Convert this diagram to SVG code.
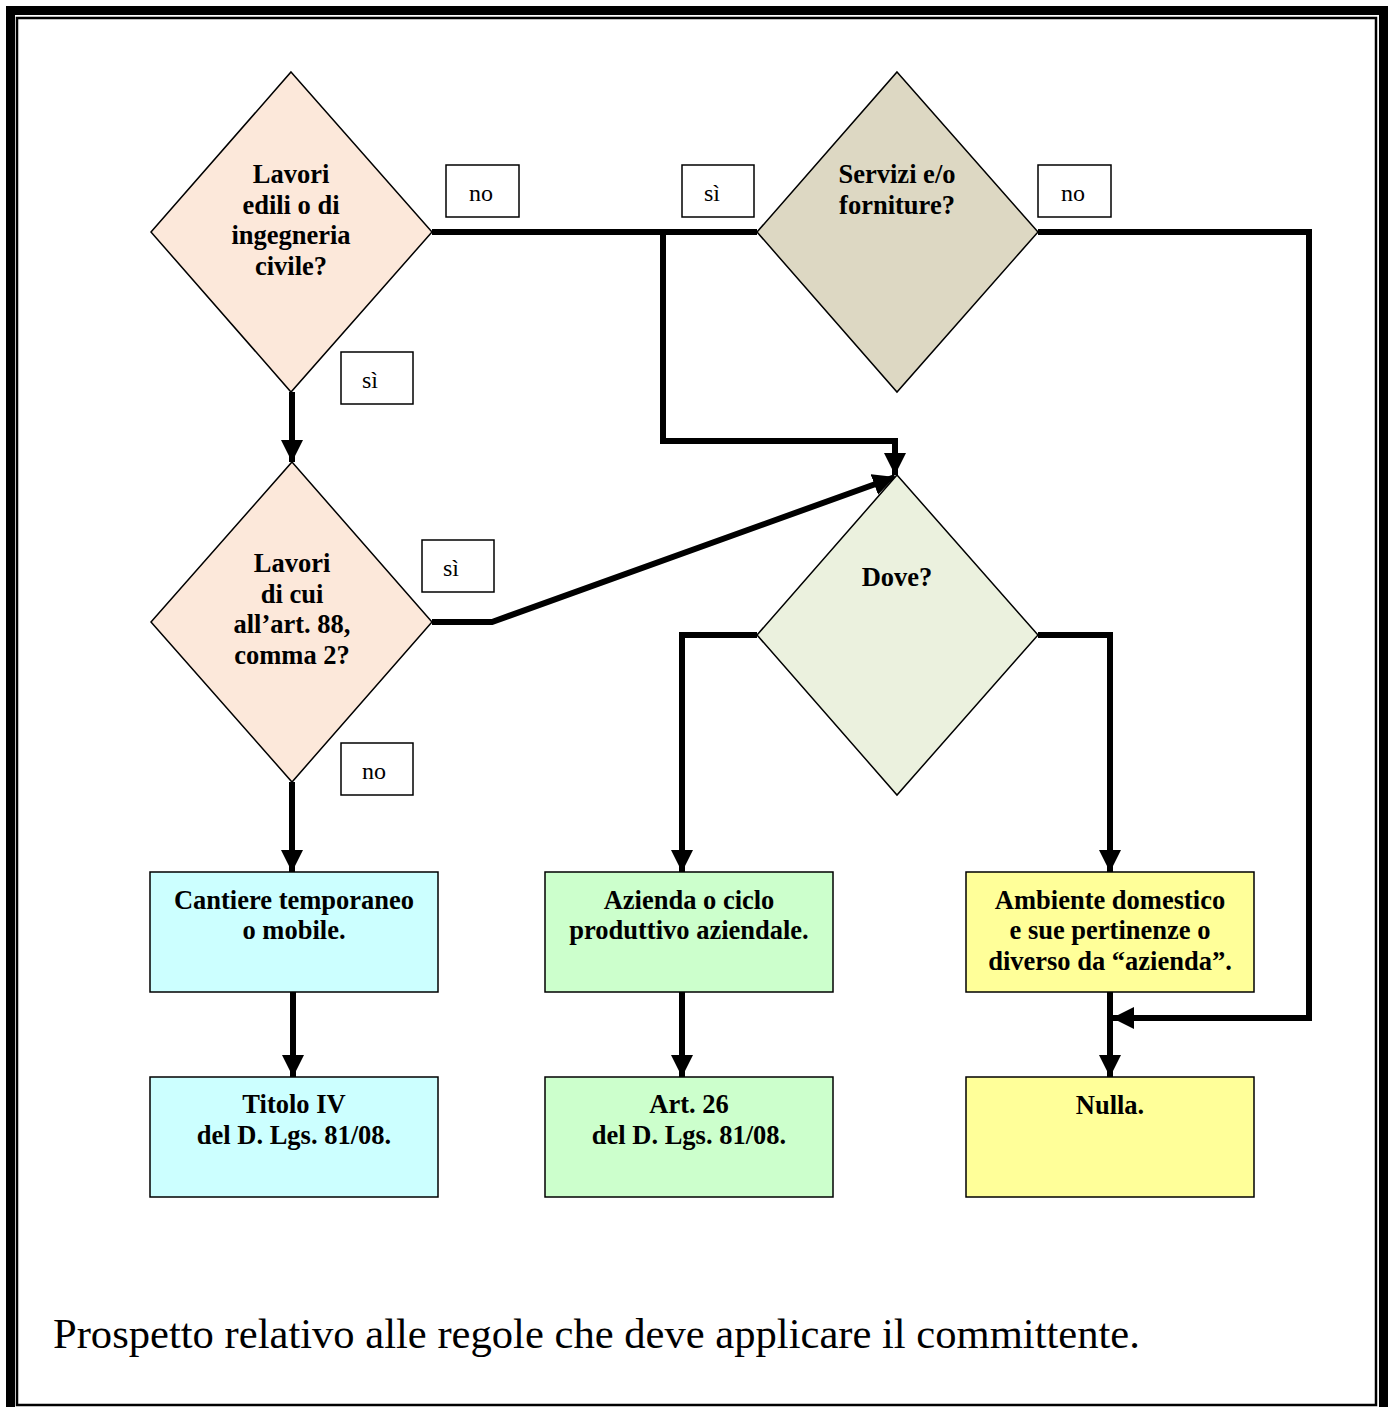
<svg xmlns="http://www.w3.org/2000/svg" width="1391" height="1407" viewBox="0 0 1391 1407">
  <style>
    .node { stroke: #000; stroke-width: 1.5; }
    .lbl { fill: #fff; stroke: #000; stroke-width: 1.5; }
    .t { font-family: "Liberation Serif", "Times New Roman", serif; font-size: 26.5px; font-weight: bold; text-anchor: middle; fill: #000; }
    .lt { font-family: "Liberation Serif", "Times New Roman", serif; font-size: 24px; text-anchor: middle; fill: #000; }
    .cap { font-family: "Liberation Serif", "Times New Roman", serif; font-size: 42.6px; fill: #000; }
    .wire { fill: none; stroke: #000; stroke-width: 6; stroke-linejoin: miter; }
  </style>
  <defs>
    <marker id="arrow" markerUnits="userSpaceOnUse" markerWidth="22" markerHeight="22" viewBox="0 0 22 22" refX="22" refY="11" orient="auto">
      <path d="M0,0 L22,11 L0,22 Z" fill="#000"/>
    </marker>
  </defs>

  <rect width="1391" height="1407" fill="#fff"/>

  <!-- page frame: thick outer rule and thin inner rule -->
  <rect x="10.5" y="10.5" width="1373" height="1410" fill="none" stroke="#000" stroke-width="9"/>
  <rect x="17" y="18" width="1359" height="1387" fill="none" stroke="#000" stroke-width="2.5"/>

  <!-- connectors -->
  <g id="connectors">
    <path class="wire" d="M432,232 H757"/>
    <path class="wire" d="M663,232 V441 H895 V475" marker-end="url(#arrow)"/>
    <path class="wire" d="M432,622 H492 L895,477" marker-end="url(#arrow)"/>
    <path class="wire" d="M1038,232 H1309 V1018 H1112" marker-end="url(#arrow)"/>
    <path class="wire" d="M292,392 V462" marker-end="url(#arrow)"/>
    <path class="wire" d="M292,782 V872" marker-end="url(#arrow)"/>
    <path class="wire" d="M757,635 H682 V872" marker-end="url(#arrow)"/>
    <path class="wire" d="M1038,635 H1110 V872" marker-end="url(#arrow)"/>
    <path class="wire" d="M293,992 V1077" marker-end="url(#arrow)"/>
    <path class="wire" d="M682,992 V1077" marker-end="url(#arrow)"/>
    <path class="wire" d="M1110,992 V1077" marker-end="url(#arrow)"/>
  </g>

  <!-- decision nodes -->
  <g id="lavori-edili">
    <polygon class="node" points="291,72 432,232 291,392 151,232" fill="#FCE8DA"/>
    <text class="t" x="291" y="183">Lavori</text>
    <text class="t" x="291" y="214">edili o di</text>
    <text class="t" x="291" y="244">ingegneria</text>
    <text class="t" x="291" y="275">civile?</text>
  </g>
  <g id="servizi-forniture">
    <polygon class="node" points="897,72 1038,232 897,392 757,232" fill="#DDD8C3"/>
    <text class="t" x="897" y="183">Servizi e/o</text>
    <text class="t" x="897" y="214">forniture?</text>
  </g>
  <g id="lavori-art88">
    <polygon class="node" points="292,462 432,622 292,782 151,622" fill="#FCE8DA"/>
    <text class="t" x="292" y="572">Lavori</text>
    <text class="t" x="292" y="603">di cui</text>
    <text class="t" x="292" y="633">all’art. 88,</text>
    <text class="t" x="292" y="664">comma 2?</text>
  </g>
  <g id="dove">
    <polygon class="node" points="897,475 1038,635 897,795 757,635" fill="#EBF1DE"/>
    <text class="t" x="897" y="586">Dove?</text>
  </g>

  <!-- outcome nodes -->
  <g id="cantiere">
    <rect class="node" x="150" y="872" width="288" height="120" fill="#CCFFFF"/>
    <text class="t" x="294" y="909">Cantiere temporaneo</text>
    <text class="t" x="294" y="939">o mobile.</text>
  </g>
  <g id="titolo-iv">
    <rect class="node" x="150" y="1077" width="288" height="120" fill="#CCFFFF"/>
    <text class="t" x="294" y="1113">Titolo IV</text>
    <text class="t" x="294" y="1144">del D. Lgs. 81/08.</text>
  </g>
  <g id="azienda">
    <rect class="node" x="545" y="872" width="288" height="120" fill="#CCFFCC"/>
    <text class="t" x="689" y="909">Azienda o ciclo</text>
    <text class="t" x="689" y="939">produttivo aziendale.</text>
  </g>
  <g id="art-26">
    <rect class="node" x="545" y="1077" width="288" height="120" fill="#CCFFCC"/>
    <text class="t" x="689" y="1113">Art. 26</text>
    <text class="t" x="689" y="1144">del D. Lgs. 81/08.</text>
  </g>
  <g id="ambiente">
    <rect class="node" x="966" y="872" width="288" height="120" fill="#FFFF99"/>
    <text class="t" x="1110" y="909">Ambiente domestico</text>
    <text class="t" x="1110" y="939">e sue pertinenze o</text>
    <text class="t" x="1110" y="970">diverso da “azienda”.</text>
  </g>
  <g id="nulla">
    <rect class="node" x="966" y="1077" width="288" height="120" fill="#FFFF99"/>
    <text class="t" x="1110" y="1114">Nulla.</text>
  </g>

  <!-- branch labels -->
  <g id="label-no-1">
    <rect class="lbl" x="446" y="165" width="73" height="52"/>
    <text class="lt" x="481" y="201">no</text>
  </g>
  <g id="label-si-1">
    <rect class="lbl" x="682" y="165" width="72" height="52"/>
    <text class="lt" x="712" y="201">sì</text>
  </g>
  <g id="label-no-2">
    <rect class="lbl" x="1038" y="165" width="73" height="52"/>
    <text class="lt" x="1073" y="201">no</text>
  </g>
  <g id="label-si-2">
    <rect class="lbl" x="341" y="352" width="72" height="52"/>
    <text class="lt" x="370" y="388">sì</text>
  </g>
  <g id="label-si-3">
    <rect class="lbl" x="422" y="540" width="72" height="52"/>
    <text class="lt" x="451" y="576">sì</text>
  </g>
  <g id="label-no-3">
    <rect class="lbl" x="341" y="743" width="72" height="52"/>
    <text class="lt" x="374" y="779">no</text>
  </g>

  <!-- caption -->
  <text class="cap" x="53" y="1348">Prospetto relativo alle regole che deve applicare il committente.</text>
</svg>
